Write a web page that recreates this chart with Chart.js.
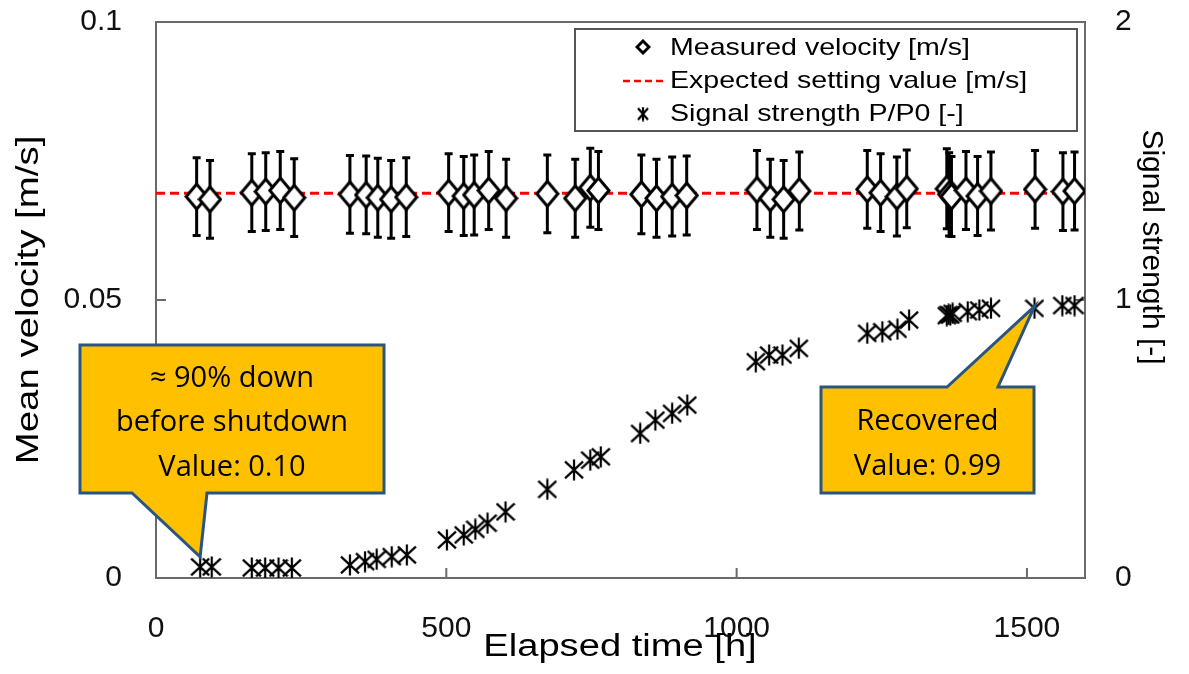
<!DOCTYPE html>
<html>
<head>
<meta charset="utf-8">
<script src="https://cdn.jsdelivr.net/npm/chart.js@4.4.0/dist/chart.umd.min.js"></script>
<style>
  html, body { margin: 0; padding: 0; background: #fff; }
  canvas { display: block; }
</style>
</head>
<body>
<canvas id="chart" width="1189" height="674"></canvas>
<script>
// measured velocity [m/s] with error bars, against elapsed time [h]
const velocityHours = [70, 93, 165, 189, 214, 238, 334, 362, 382, 405, 431, 504, 530, 548, 573, 603, 674, 722, 748, 762,
  836, 862, 889, 914, 1035, 1058, 1081, 1108, 1225, 1248, 1276, 1293, 1362, 1366, 1370, 1395, 1415, 1438, 1514, 1562, 1582];
const velocityValues = [0.0686, 0.0681, 0.0693, 0.0695, 0.0697, 0.0684, 0.0690, 0.0689, 0.0684, 0.0681, 0.0685,
  0.0693, 0.0687, 0.0689, 0.0697, 0.0683, 0.0691, 0.0683, 0.0702, 0.0697, 0.0690, 0.0683, 0.0686, 0.0688,
  0.0698, 0.0683, 0.0681, 0.0696, 0.0699, 0.0693, 0.0686, 0.0700, 0.0700, 0.0690, 0.0686, 0.0697, 0.0687, 0.0696,
  0.0699, 0.0695, 0.0696];
const velocityErrors = [0.0070, 0.0070, 0.0070, 0.0070, 0.0070, 0.0070, 0.0070, 0.0070, 0.0071, 0.0070, 0.0071,
  0.0070, 0.0071, 0.0072, 0.0070, 0.0070, 0.0070, 0.0070, 0.0071, 0.0070, 0.0071, 0.0070, 0.0071, 0.0071,
  0.0071, 0.0070, 0.0070, 0.0070, 0.0070, 0.0070, 0.0071, 0.0070, 0.0072, 0.0075, 0.0072, 0.0070, 0.0071, 0.0070,
  0.0070, 0.0070, 0.0070];

// expected setting value [m/s]
const expectedHours = [0, 1600];
const expectedValues = [0.0692, 0.0692];

// signal strength P/P0 [-]
const signalHours = [76, 96, 165, 188, 211, 234, 334, 360, 380, 406, 432, 501, 530, 550, 571, 602, 674, 720, 748, 766,
  834, 860, 889, 915, 1033, 1056, 1079, 1107, 1225, 1251, 1277, 1297, 1362, 1365, 1368, 1372, 1398, 1418, 1438, 1513, 1561, 1582];
const signalValues = [0.04, 0.04, 0.036, 0.036, 0.036, 0.036, 0.047, 0.059, 0.067, 0.077, 0.083, 0.137, 0.155, 0.175,
  0.197, 0.238, 0.319, 0.389, 0.424, 0.436, 0.52, 0.568, 0.592, 0.622, 0.778, 0.802, 0.802, 0.826, 0.88, 0.886,
  0.895, 0.928, 0.944, 0.948, 0.946, 0.952, 0.958, 0.964, 0.97, 0.97, 0.98, 0.98];

const xTickValues = [0, 500, 1000, 1500];
const xTickLabels = ['0', '500', '1000', '1500'];
const yTickLabels = ['0', '0.05', '0.1'];
const y2TickLabels = ['0', '1', '2'];

const AXIS_FONT = '"Liberation Sans", Arial, sans-serif';
const NOTE_FONT = '"Open Sans", "Noto Sans", sans-serif';

const makeDiamond = (w, h, lw) => {
  const c = document.createElement('canvas');
  c.width = w; c.height = h;
  const g = c.getContext('2d');
  const p = lw / 2 + 0.5;
  g.beginPath();
  g.moveTo(w / 2, p);
  g.lineTo(w - p, h / 2);
  g.lineTo(w / 2, h - p);
  g.lineTo(p, h / 2);
  g.closePath();
  g.fillStyle = '#fff';
  g.fill();
  g.lineWidth = lw;
  g.lineJoin = 'miter';
  g.strokeStyle = '#000';
  g.stroke();
  return c;
};

const makeStar = (w, h, lw) => {
  const c = document.createElement('canvas');
  c.width = w; c.height = h;
  const g = c.getContext('2d');
  g.strokeStyle = '#000';
  g.lineWidth = lw;
  g.beginPath();
  g.moveTo(w / 2, 0.5); g.lineTo(w / 2, h - 0.5);
  g.moveTo(1, h * 0.12); g.lineTo(w - 1, h * 0.88);
  g.moveTo(1, h * 0.88); g.lineTo(w - 1, h * 0.12);
  g.stroke();
  return c;
};

const diamondPoint = makeDiamond(25, 29, 3);
const starPoint = makeStar(20, 22, 2.2);
const diamondLegend = makeDiamond(16, 16, 3);
const starLegend = makeStar(12, 15, 2.2);

const toPoints = (xs, ys) => xs.map((x, i) => ({ x: x, y: ys[i] }));

// frame and inward tick marks
const framePlugin = {
  id: 'frame',
  beforeDatasetsDraw(chart) {
    const { ctx, chartArea: a, scales } = chart;
    ctx.save();
    ctx.strokeStyle = '#6a6a6a';
    ctx.lineWidth = 2;
    ctx.strokeRect(a.left, a.top, a.right - a.left, a.bottom - a.top);
    ctx.beginPath();
    scales.x.ticks.forEach((t) => {
      const px = scales.x.getPixelForValue(t.value);
      if (px <= a.left + 1 || px >= a.right - 1) return;
      ctx.moveTo(px, a.bottom); ctx.lineTo(px, a.bottom - 10);
    });
    scales.y.ticks.forEach((t) => {
      const py = scales.y.getPixelForValue(t.value);
      if (py <= a.top + 1 || py >= a.bottom - 1) return;
      ctx.moveTo(a.left, py); ctx.lineTo(a.left + 10, py);
    });
    scales.y2.ticks.forEach((t) => {
      const py = scales.y2.getPixelForValue(t.value);
      if (py <= a.top + 1 || py >= a.bottom - 1) return;
      ctx.moveTo(a.right, py); ctx.lineTo(a.right - 10, py);
    });
    ctx.stroke();
    ctx.restore();
  },
};

// vertical error bars under the diamonds
const errorBarPlugin = {
  id: 'errorBars',
  beforeDatasetDraw(chart, args) {
    if (args.index !== 0) return;
    const { ctx, scales } = chart;
    ctx.save();
    ctx.strokeStyle = '#000';
    ctx.lineWidth = 3;
    ctx.beginPath();
    velocityHours.forEach((h, i) => {
      const px = scales.x.getPixelForValue(h);
      const top = scales.y.getPixelForValue(velocityValues[i] + velocityErrors[i]);
      const bot = scales.y.getPixelForValue(velocityValues[i] - velocityErrors[i]);
      ctx.moveTo(px, top); ctx.lineTo(px, bot);
      ctx.moveTo(px - 4, top); ctx.lineTo(px + 4, top);
      ctx.moveTo(px - 4, bot); ctx.lineTo(px + 4, bot);
    });
    ctx.stroke();
    ctx.restore();
  },
};

const drawStretched = (ctx, text, x, y, rot, sx, font, align) => {
  ctx.save();
  ctx.translate(x, y);
  ctx.rotate(rot);
  ctx.scale(sx, 1);
  ctx.font = font;
  ctx.textAlign = align || 'center';
  ctx.textBaseline = 'alphabetic';
  ctx.fillStyle = '#000';
  ctx.fillText(text, 0, 0);
  ctx.restore();
};

// boxed legend in the top right of the plot
const legendBoxPlugin = {
  id: 'legendBox',
  afterDraw(chart) {
    const { ctx } = chart;
    const ds = chart.data.datasets;
    ctx.save();
    ctx.fillStyle = '#fff';
    ctx.fillRect(575, 29, 502, 102);
    ctx.strokeStyle = '#555';
    ctx.lineWidth = 2;
    ctx.strokeRect(575, 29, 502, 102);
    ctx.drawImage(diamondLegend, 643 - 8, 47 - 8);
    ctx.strokeStyle = '#ff0000';
    ctx.lineWidth = 2.5;
    ctx.setLineDash([7, 4]);
    ctx.beginPath();
    ctx.moveTo(623, 81); ctx.lineTo(667, 81);
    ctx.stroke();
    ctx.setLineDash([]);
    ctx.drawImage(starLegend, 643 - 6, 114 - 7.5);
    ctx.restore();
    const f = '24px ' + AXIS_FONT;
    drawStretched(ctx, ds[0].label, 670, 55, 0, 1.19, f, 'left');
    drawStretched(ctx, ds[1].label, 670, 88, 0, 1.19, f, 'left');
    drawStretched(ctx, ds[2].label, 670, 121, 0, 1.19, f, 'left');
  },
};

// axis titles (the original's are slightly widened)
const axisTitlePlugin = {
  id: 'axisTitles',
  afterDraw(chart) {
    const { ctx } = chart;
    drawStretched(ctx, 'Mean velocity [m/s]', 38, 300, -Math.PI / 2, 1.2, '32px ' + AXIS_FONT);
    drawStretched(ctx, 'Elapsed time [h]', 620, 656, 0, 1.23, '31px ' + AXIS_FONT);
    drawStretched(ctx, 'Signal strength [-]', 1143, 247, Math.PI / 2, 1, '30px ' + AXIS_FONT);
  },
};

// yellow speech-bubble notes pointing at signal points
const callouts = [
  { index: 0, dy: -10, box: [80, 345, 384, 493], base: [132, 207],
    lines: ['≈ 90% down', 'before shutdown', 'Value: 0.10'], baselines: [387, 431, 476] },
  { index: 39, dy: -2, box: [821, 387, 1034, 493], base: [947, 998],
    lines: ['Recovered', 'Value: 0.99'], baselines: [430, 475] },
];

const calloutPlugin = {
  id: 'callouts',
  afterDraw(chart) {
    const { ctx, scales } = chart;
    callouts.forEach((c) => {
      const tx = scales.x.getPixelForValue(signalHours[c.index]);
      const ty = scales.y2.getPixelForValue(signalValues[c.index]) + c.dy;
      const [x0, y0, x1, y1] = c.box;
      ctx.save();
      ctx.beginPath();
      if (ty > y1) {
        ctx.moveTo(x0, y0); ctx.lineTo(x1, y0); ctx.lineTo(x1, y1);
        ctx.lineTo(c.base[1], y1); ctx.lineTo(tx, ty); ctx.lineTo(c.base[0], y1);
        ctx.lineTo(x0, y1);
      } else {
        ctx.moveTo(x0, y0); ctx.lineTo(c.base[0], y0); ctx.lineTo(tx, ty);
        ctx.lineTo(c.base[1], y0); ctx.lineTo(x1, y0); ctx.lineTo(x1, y1);
        ctx.lineTo(x0, y1);
      }
      ctx.closePath();
      ctx.fillStyle = '#ffc000';
      ctx.fill();
      ctx.lineWidth = 3;
      ctx.lineJoin = 'miter';
      ctx.strokeStyle = '#2b5581';
      ctx.stroke();
      ctx.fillStyle = '#000';
      ctx.font = '29px ' + NOTE_FONT;
      ctx.textAlign = 'center';
      ctx.textBaseline = 'alphabetic';
      c.lines.forEach((t, i) => ctx.fillText(t, (x0 + x1) / 2, c.baselines[i]));
      ctx.restore();
    });
  },
};

const tickFont = { family: AXIS_FONT, size: 30 };

new Chart(document.getElementById('chart'), {
  type: 'scatter',
  data: {
    datasets: [
      {
        label: 'Measured velocity [m/s]',
        data: toPoints(velocityHours, velocityValues),
        yAxisID: 'y',
        pointStyle: diamondPoint,
        order: 0,
      },
      {
        type: 'line',
        label: 'Expected setting value [m/s]',
        data: toPoints(expectedHours, expectedValues),
        yAxisID: 'y',
        borderColor: '#ff0000',
        borderWidth: 3,
        borderDash: [9, 5],
        pointRadius: 0,
        fill: false,
        order: 2,
      },
      {
        label: 'Signal strength P/P0 [-]',
        data: toPoints(signalHours, signalValues),
        yAxisID: 'y2',
        pointStyle: starPoint,
        order: 1,
      },
    ],
  },
  options: {
    responsive: false,
    animation: false,
    devicePixelRatio: 1,
    layout: { padding: { top: 22, left: 0, right: 0, bottom: 0 } },
    plugins: { legend: { display: false }, tooltip: { enabled: false } },
    scales: {
      x: {
        type: 'linear',
        min: 0,
        max: 1600,
        grid: { display: false, drawTicks: true, tickLength: 33 },
        border: { display: false },
        // 1600 is not a multiple of 500, so set the ticks by hand
        afterBuildTicks: (s) => { s.ticks = xTickValues.map((v) => ({ value: v })); },
        ticks: {
          padding: 0,
          color: '#111',
          font: tickFont,
          maxRotation: 0,
          autoSkip: false,
          callback: (v, i) => xTickLabels[i],
        },
        afterFit: (s) => { s.height = 96; },
      },
      y: {
        position: 'left',
        min: 0,
        max: 0.1,
        grid: { display: false, drawTicks: true, tickLength: 34 },
        border: { display: false },
        ticks: {
          stepSize: 0.05,
          padding: 0,
          color: '#111',
          font: tickFont,
          callback: (v) => yTickLabels[Math.round(v / 0.05)],
        },
        afterFit: (s) => { s.width = 156; },
      },
      y2: {
        position: 'right',
        min: 0,
        max: 2,
        grid: { display: false, drawTicks: true, tickLength: 30 },
        border: { display: false },
        ticks: {
          stepSize: 1,
          padding: 0,
          color: '#111',
          font: tickFont,
          callback: (v) => y2TickLabels[Math.round(v)],
        },
        afterFit: (s) => { s.width = 104; },
      },
    },
  },
  plugins: [framePlugin, errorBarPlugin, legendBoxPlugin, axisTitlePlugin, calloutPlugin],
});
</script>
</body>
</html>
